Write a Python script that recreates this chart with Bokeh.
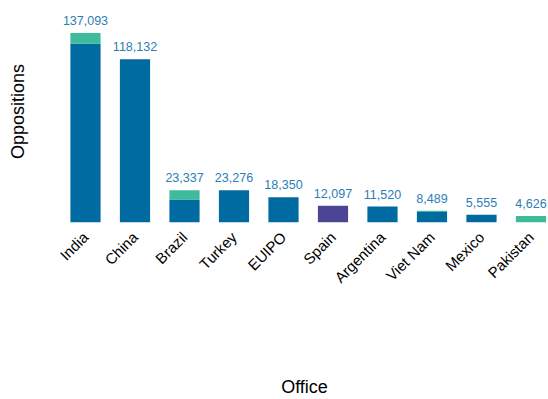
from bokeh.plotting import figure
from bokeh.models import ColumnDataSource, FixedTicker, LabelSet, Range1d
from bokeh.core.properties import value
from bokeh.embed import file_html
from bokeh.resources import INLINE

offices = ["India", "China", "Brazil", "Turkey", "EUIPO", "Spain",
           "Argentina", "Viet Nam", "Mexico", "Pakistan"]
series_dark = [129443, 118132, 16637, 23276, 18350, 0, 11520, 7600, 5555, 0]
series_teal = [7650, 0, 6700, 0, 0, 0, 0, 889, 0, 4626]
series_purple = [0, 0, 0, 0, 0, 12097, 0, 0, 0, 0]

totals = [a + b + c for a, b, c in zip(series_dark, series_teal, series_purple)]
xs = list(range(len(offices)))

source = ColumnDataSource(dict(
    x=xs, dark=series_dark, teal=series_teal, purple=series_purple,
    total=totals, label=[f"{t:,}" for t in totals],
))

FONT = "Liberation Sans"

p = figure(width=548, height=399, output_backend="svg", toolbar_location=None,
           x_range=Range1d(-0.505, 9.354), y_range=Range1d(0, 160700),
           min_border_left=60, min_border_right=0, min_border_top=0,
           min_border_bottom=10)

p.vbar_stack(["dark", "teal", "purple"], x="x", width=0.61, source=source,
             color=["#006BA1", "#3EBB9A", "#4B4593"], line_color=None)

labels = LabelSet(x="x", y="total", text="label", source=source,
                  text_align="center", text_baseline="alphabetic",
                  y_offset=8, text_color="#2B7EB5",
                  text_font=value(FONT), text_font_size=value("12.5px"))
p.add_layout(labels)

p.xaxis.ticker = FixedTicker(ticks=xs)
p.xaxis.major_label_overrides = {i: name for i, name in enumerate(offices)}
p.xaxis.major_label_orientation = 0.785398
p.xaxis.major_label_text_font = FONT
p.xaxis.major_label_text_font_size = "15px"
p.xaxis.major_label_text_color = "#000000"
p.xaxis.major_tick_line_color = None
p.xaxis.minor_tick_line_color = None
p.xaxis.axis_line_color = None
p.xaxis.major_label_standoff = 6
p.xaxis.axis_label = "Office"
p.xaxis.axis_label_text_font = FONT
p.xaxis.axis_label_text_font_size = "18px"
p.xaxis.axis_label_text_font_style = "normal"
p.xaxis.axis_label_text_color = "#000000"
p.xaxis.axis_label_standoff = 82

p.yaxis.ticker = FixedTicker(ticks=[])
p.yaxis.major_tick_line_color = None
p.yaxis.minor_tick_line_color = None
p.yaxis.axis_line_color = None
p.yaxis.major_label_standoff = 0
p.yaxis.major_tick_out = 0
p.yaxis.axis_label = "Oppositions"
p.yaxis.axis_label_text_font = FONT
p.yaxis.axis_label_text_font_size = "18px"
p.yaxis.axis_label_text_font_style = "normal"
p.yaxis.axis_label_text_color = "#000000"
p.yaxis.axis_label_standoff = 33

p.xgrid.visible = False
p.ygrid.visible = False
p.outline_line_color = None
p.background_fill_color = "white"
p.border_fill_color = "white"

open("out.html", "w").write(file_html(p, INLINE))
